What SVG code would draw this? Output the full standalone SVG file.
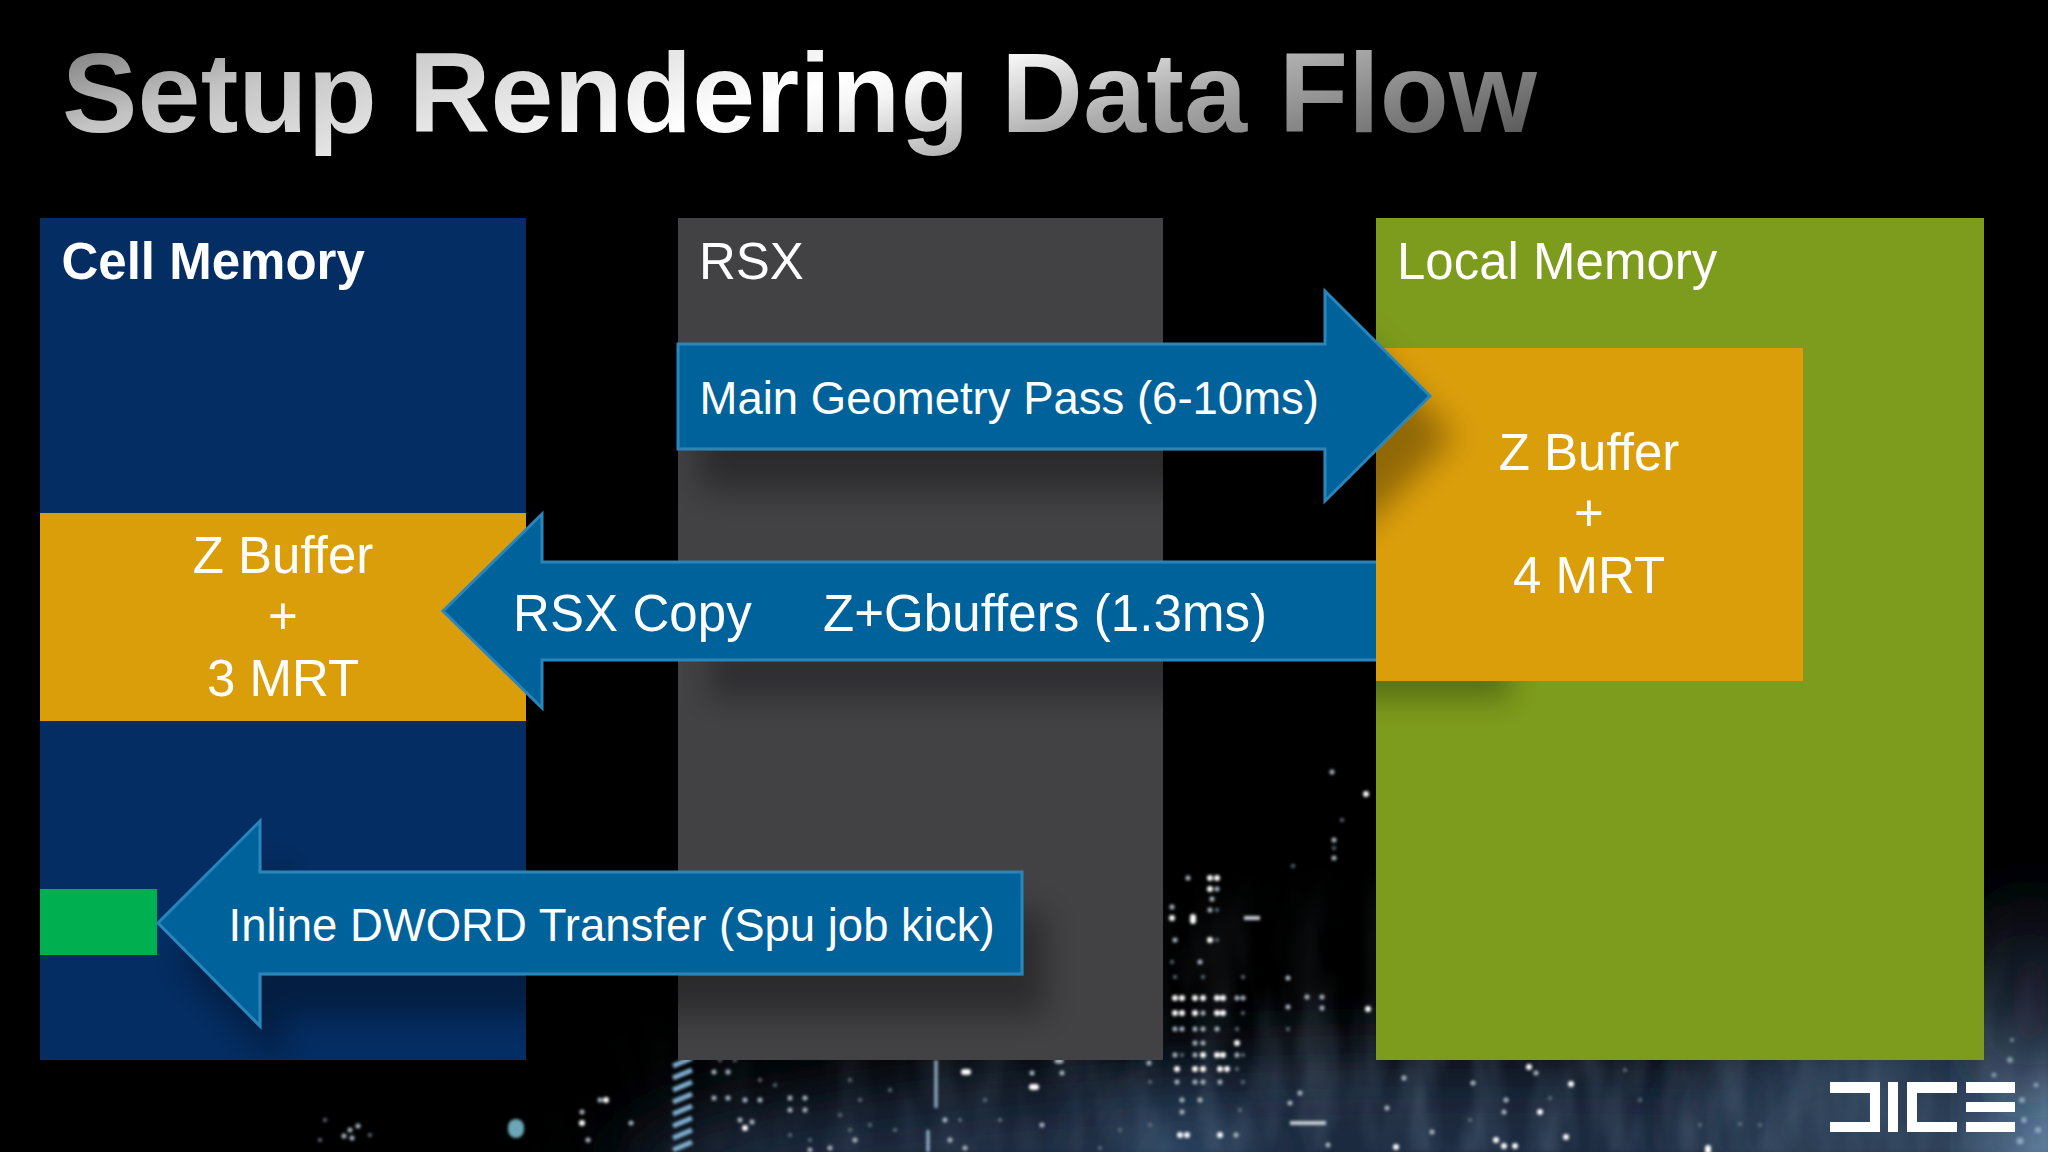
<svg xmlns="http://www.w3.org/2000/svg" width="2048" height="1152" viewBox="0 0 2048 1152">
<style>
text{font-family:"Liberation Sans",Arial,sans-serif;fill:#fff;white-space:pre}
.h{font-size:51px}
.b{font-weight:700}
.m{text-anchor:middle;font-size:51px}
.l{font-size:45.5px}
.arrow{fill:#00629a;stroke:#2b85ba;stroke-width:3;stroke-linejoin:miter}
.lit{fill:none;stroke-linecap:round}
.logo{fill:#fff}
</style>
<defs>
<linearGradient id="tg" gradientUnits="userSpaceOnUse" x1="62" y1="50" x2="209" y2="535">
<stop offset="0" stop-color="#808080"/><stop offset=".16" stop-color="#c4c4c4"/><stop offset=".5" stop-color="#fff"/><stop offset=".56" stop-color="#f4f4f4"/><stop offset=".72" stop-color="#aeaeae"/><stop offset="1" stop-color="#5a5a5a"/>
</linearGradient>
<radialGradient id="tex" gradientUnits="userSpaceOnUse" cx="0" cy="0" r="1" gradientTransform="translate(1550 1152) scale(1050 300)">
<stop offset="0" stop-color="#fff"/><stop offset=".5" stop-color="#fff" stop-opacity=".6"/><stop offset="1" stop-color="#fff" stop-opacity="0"/>
</radialGradient>
<filter id="b40" x="-50%" y="-100%" width="200%" height="300%"><feGaussianBlur stdDeviation="40"/></filter>
<filter id="b12" x="-30%" y="-60%" width="160%" height="220%"><feGaussianBlur stdDeviation="14"/></filter>
<filter id="b1" x="-5%" y="-5%" width="110%" height="110%"><feGaussianBlur stdDeviation="1.4"/></filter>
<filter id="sh" x="-10%" y="-20%" width="125%" height="170%">
<feDropShadow dx="22" dy="40" stdDeviation="16" flood-color="#000" flood-opacity=".34"/>
</filter>
<filter id="streak" x="0" y="0" width="100%" height="100%">
<feTurbulence type="fractalNoise" baseFrequency=".03 .008" numOctaves="3" seed="7" result="n"/>
<feColorMatrix in="n" type="matrix" values="0 0 0 0 .3  0 0 0 0 .43  0 0 0 0 .58  1.5 0 0 0 -.55" result="c"/>
<feGaussianBlur in="c" stdDeviation="2.5" result="s"/>
<feComposite in="s" in2="SourceGraphic" operator="in"/>
</filter>
</defs>
<rect width="2048" height="1152" fill="#000"/>
<g id="background">
<ellipse cx="1500" cy="1175" rx="880" ry="115" fill="#1c2c40" filter="url(#b40)"/>
<ellipse cx="1900" cy="1130" rx="200" ry="110" fill="#2a3d55" filter="url(#b40)"/>
<ellipse cx="2050" cy="1120" rx="50" ry="140" fill="#6a8db0" filter="url(#b40)"/>
<ellipse cx="1180" cy="1160" rx="70" ry="50" fill="#2e4a66" filter="url(#b40)"/>
<ellipse cx="2030" cy="1000" rx="50" ry="100" fill="#161d2a" filter="url(#b40)"/>
<rect x="480" y="850" width="1568" height="302" fill="url(#tex)" filter="url(#streak)" opacity=".38"/>
<g filter="url(#b1)">
<path d="M673 1066l19-8M673 1078l19-8M673 1090l19-8M673 1102l19-8M673 1114l19-8M673 1126l19-8M673 1138l19-8M673 1150l19-8" stroke="#7fb0d2" stroke-width="5" fill="none"/>
<path d="M936 1060V1108M928 1130V1152" stroke="#9dbcd2" stroke-width="3" fill="none"/>
<path d="M1290 1123h36M1244 918h16" stroke="#c8d0d8" stroke-width="4" fill="none"/>
<path class="lit" stroke="#fff" stroke-width="6" d="M606 1100h0M582 1123h0M1210 878h0M1217 878h0M1210 889h0M1172 918h0M1193 917v4M1210 940h0M1175 998h0M1182 998h0M1195 998h0M1203 998h0M1217 998h0M1223 998h0M1175 1013h0M1182 1013h0M1195 1013h0M1217 1013h0M1223 1013h0M1203 1055h0M1217 1055h0M1223 1055h0M1237 1043h0M1368 1009h0M1366 794h0M1529 1067h0M1571 1084h0M1540 1112h0M1566 1137h0M1708 1148v3M1396 1147h0M1496 1140h0M1504 1146h0M1032 1087h4M1177 1069h0M1195 1069h0M1203 1069h0M1220 1069h0M1227 1069h0M1180 1135h0M1187 1135h0M1220 1135h0M964 1072h4M745 1128h0M1515 1146h0"/>
<path class="lit" stroke="#aeb9c4" stroke-width="5" d="M1188 878h0M1217 889h0M1212 899h0M1210 910h0M1172 907h0M1175 940h0M1200 962h0M1237 998h0M1243 998h0M1203 1013h0M1175 1029h0M1182 1029h0M1195 1029h0M1203 1029h0M1217 1029h0M1195 1043h0M1203 1043h0M1175 1055h0M1195 1055h0M1237 1055h0M1332 772h0M1334 840h0M1334 858h0M1288 978h0M1307 997h0M1322 997h0M1288 1007h0M1322 1008h0M1032 1073h0M1062 1073h0M1149 1063h0M1057 1061h4M1177 1082h0M1195 1082h0M1203 1082h0M1220 1082h0M1182 1100h0M1200 1100h0M1182 1112h0M1042 1125h0M1236 1135h0M1300 1093h0M1290 1103h0M1404 1078h0M1473 1083h0M1506 1100h0M1504 1112h0M1387 1108h0M1432 1132h0M1328 1145h0M1536 1073h0M350 1130h0M358 1126h0M344 1136h0M352 1138h0M631 1123h0M588 1140h0M582 1112h0M600 1100h0M714 1072h0M728 1072h0M714 1098h0M728 1098h0M790 1098h0M805 1098h0M745 1100h0M790 1110h0M805 1110h0M760 1100h0M740 1120h0M752 1122h0M810 1150h0M830 1148h0M855 1140h0M945 1120h0M950 1140h0M965 1148h0"/>
<path class="lit" stroke="#67747f" stroke-width="4" d="M1342 820h0M1334 848h0M1293 866h0M1217 910h0M1217 940h0M1172 962h0M1175 977h0M1203 977h0M1243 977h0M1243 1013h0M1237 1029h0M1288 1029h0M1243 1055h0M1182 1055h0M1237 1069h0M1243 1082h0M1150 1082h0M1240 1110h0M1470 1120h0M1550 1098h0M1625 1070h0M1700 1125h0M720 1060h0M735 1060h0M760 1080h0M775 1085h0M850 1080h0M860 1100h0M890 1090h0M960 1120h0M985 1100h0M1000 1120h0M850 1130h0M790 1135h0M810 1140h0M1740 1124h0M1760 1125h0M320 1140h0M325 1120h0M370 1135h0M840 1115h0M870 1125h0M895 1130h0M1100 1148h0M1120 1130h0M1150 1125h0M1640 1100h0"/>
<path class="lit" stroke="#7fc4d8" stroke-width="16" opacity=".85" d="M516 1127v3"/>
</g>
<g fill="#b8cfe0" opacity=".6" filter="url(#b1)">
<circle cx="1994" cy="1075" r="2.5"/><circle cx="2010" cy="1060" r="3"/><circle cx="2022" cy="1100" r="3"/><circle cx="2024" cy="1120" r="3"/><circle cx="2020" cy="1141" r="3.5"/><circle cx="2036" cy="1085" r="2.5"/><circle cx="2038" cy="1130" r="3"/><circle cx="2012" cy="1040" r="2"/>
</g>
</g>
<text id="title" x="62" y="132" font-size="113" font-weight="700" style="fill:url(#tg)" textLength="1475" lengthAdjust="spacing">Setup Rendering Data Flow</text>
<g id="cell-memory"><rect x="40" y="218" width="486" height="842" fill="#042d63"/><text class="h b" x="61.5" y="279">Cell Memory</text></g>
<g id="rsx"><rect x="678" y="218" width="485" height="842" fill="#424143"/><text class="h" x="699" y="279">RSX</text></g>
<g id="local-memory"><rect x="1376" y="218" width="608" height="842" fill="#7d9b1c"/><text class="h" x="1397" y="279">Local Memory</text></g>
<g id="cell-gbuffers"><rect x="40" y="513" width="486" height="208" fill="#db9e0b"/><text class="m" x="283" y="573">Z Buffer</text><text class="m" x="283" y="634">+</text><text class="m" x="283" y="696">3 MRT</text></g>
<g id="dword"><rect x="40" y="889" width="117" height="66" fill="#00b050"/></g>
<rect id="copy-shadow" x="710" y="630" width="800" height="70" fill="#000" opacity=".27" filter="url(#b12)"/>
<g id="local-gbuffers"><rect x="1376" y="348" width="427" height="333" fill="#db9e0b"/><text class="m" x="1589" y="470">Z Buffer</text><text class="m" x="1589" y="531">+</text><text class="m" x="1589" y="593">4 MRT</text></g>
<g id="connectors">
<g id="geometry-pass"><path class="arrow" filter="url(#sh)" d="M678 344H1325V291L1430 396L1325 501V449H678Z"/><text class="l" x="699.5" y="414">Main Geometry Pass (6-10ms)</text></g>
<g id="rsx-copy"><path class="arrow" d="M1376 562H542V514L443 611L542 708V660H1376"/><text class="h" x="513" y="631" textLength="754" lengthAdjust="spacing">RSX Copy     Z+Gbuffers (1.3ms)</text></g>
<g id="dword-transfer"><path class="arrow" filter="url(#sh)" d="M1022 872H260V821L158 923L260 1026V974H1022Z"/><text class="l" x="228.5" y="941">Inline DWORD Transfer (Spu job kick)</text></g>
</g>
<g id="logo" class="logo">
<path d="M1830 1082H1880V1132H1830V1122H1870V1093H1830Z"/>
<rect x="1888" y="1082" width="10" height="50"/>
<path d="M1957 1082H1907V1132H1957V1122H1917V1093H1957Z"/>
<rect x="1966" y="1082" width="49" height="11"/><rect x="1966" y="1102" width="49" height="10"/><rect x="1966" y="1122" width="49" height="10"/>
</g>
</svg>
